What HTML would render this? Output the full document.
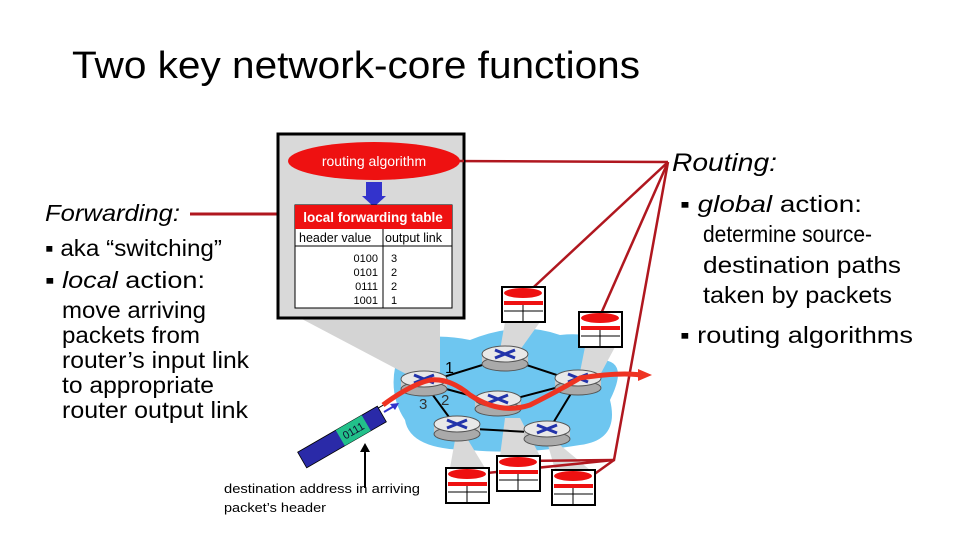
<!DOCTYPE html>
<html><head><meta charset="utf-8"><style>
body{margin:0;background:#fff;}
svg{display:block;font-family:"Liberation Sans",sans-serif;}
</style></head><body>
<svg width="960" height="540" viewBox="0 0 960 540">
<text x="72" y="78" font-size="38" textLength="568" lengthAdjust="spacingAndGlyphs" fill="#000">Two key network-core functions</text>

<!-- Forwarding -->
<text x="45" y="221" font-size="23" font-style="italic" fill="#000" textLength="135" lengthAdjust="spacingAndGlyphs">Forwarding:</text>
<line x1="190" y1="214" x2="295" y2="214" stroke="#b0171f" stroke-width="3"/>
<g font-size="23" fill="#000">
<text x="45" y="256" textLength="177" lengthAdjust="spacingAndGlyphs">▪ aka “switching”</text>
<text x="45" y="288" textLength="160" lengthAdjust="spacingAndGlyphs">▪ <tspan font-style="italic">local</tspan> action:</text>
<text x="62" y="318" textLength="144" lengthAdjust="spacingAndGlyphs">move arriving</text>
<text x="62" y="343" textLength="138" lengthAdjust="spacingAndGlyphs">packets from</text>
<text x="62" y="368" textLength="187" lengthAdjust="spacingAndGlyphs">router’s input link</text>
<text x="62" y="393" textLength="152" lengthAdjust="spacingAndGlyphs">to appropriate</text>
<text x="62" y="418" textLength="186" lengthAdjust="spacingAndGlyphs">router output link</text>
</g>

<!-- Routing -->
<text x="672" y="171" font-size="25" font-style="italic" fill="#000" textLength="105" lengthAdjust="spacingAndGlyphs">Routing:</text>
<g font-size="23" fill="#000">
<text x="680" y="212" textLength="182" lengthAdjust="spacingAndGlyphs">▪ <tspan font-style="italic">global</tspan> action:</text>
<text x="703" y="242" textLength="169" lengthAdjust="spacingAndGlyphs">determine source-</text>
<text x="703" y="273" textLength="198" lengthAdjust="spacingAndGlyphs">destination paths</text>
<text x="703" y="303" textLength="189" lengthAdjust="spacingAndGlyphs">taken by packets</text>
<text x="680" y="343" textLength="233" lengthAdjust="spacingAndGlyphs">▪ routing algorithms</text>
</g>

<!-- blue cloud -->
<path d="M400,350 Q420,330 470,340 Q520,320 560,335 Q610,330 600,360 Q630,360 610,400 Q620,440 580,445 Q520,455 470,450 Q410,450 405,420 Q385,390 400,350 Z" fill="#6ec6f0"/>

<!-- gray callout cones -->
<polygon points="300,318 440,318 440,372 410,376" fill="#d4d4d4"/>
<polygon points="505,322 540,322 520,350 500,350" fill="#d9d9d9"/>
<polygon points="585,347 615,347 600,375 580,372" fill="#d9d9d9"/>
<polygon points="450,468 485,468 468,440 455,440" fill="#d9d9d9"/>
<polygon points="500,456 540,456 520,418 505,418" fill="#d9d9d9"/>
<polygon points="555,470 590,470 560,445 548,445" fill="#d9d9d9"/>

<!-- red routing lines -->
<g stroke="#b0171f" stroke-width="2.5" fill="none">
<polyline points="440,161 668,162"/>
<polyline points="668,162 522,298"/>
<polyline points="668,162 600,316"/>
<polyline points="668,162 614,460 467,475"/>
<polyline points="614,460 520,461"/>
<polyline points="614,460 575,488"/>
</g>

<!-- big box -->
<rect x="278" y="134" width="186" height="184" fill="#d9d9d9" stroke="#000" stroke-width="3"/>
<line x1="455" y1="161" x2="464" y2="161" stroke="#b0171f" stroke-width="2.5"/>
<ellipse cx="374" cy="161" rx="86" ry="19" fill="#ee1111"/>
<text x="374" y="166" font-size="14" fill="#fff" text-anchor="middle">routing algorithm</text>
<rect x="366" y="182" width="16" height="15" fill="#3333cc"/>
<polygon points="362,196 386,196 374,207" fill="#3333cc"/>
<rect x="295" y="205" width="157" height="103" fill="#fff" stroke="#000"/>
<rect x="295" y="205" width="157" height="24" fill="#ee1111"/>
<text x="373" y="222" font-size="13.5" fill="#fff" text-anchor="middle" font-weight="bold">local forwarding table</text>
<line x1="295" y1="246" x2="452" y2="246" stroke="#000"/>
<line x1="383" y1="229" x2="383" y2="308" stroke="#000"/>
<text x="299" y="242" font-size="12.5">header value</text>
<text x="385" y="242" font-size="12.5">output link</text>
<g font-size="11">
<text x="378" y="262" text-anchor="end">0100</text><text x="391" y="262">3</text>
<text x="378" y="276" text-anchor="end">0101</text><text x="391" y="276">2</text>
<text x="378" y="290" text-anchor="end">0111</text><text x="391" y="290">2</text>
<text x="378" y="304" text-anchor="end">1001</text><text x="391" y="304">1</text>
</g>

<!-- links -->
<g stroke="#000" stroke-width="2">
<line x1="424" y1="383" x2="505" y2="358"/>
<line x1="505" y1="358" x2="578" y2="382"/>
<line x1="424" y1="383" x2="498" y2="403"/>
<line x1="498" y1="403" x2="578" y2="382"/>
<line x1="424" y1="383" x2="457" y2="428"/>
<line x1="457" y1="428" x2="547" y2="433"/>
<line x1="547" y1="433" x2="578" y2="382"/>
</g>
<line x1="300" y1="455" x2="405" y2="392" stroke="#000" stroke-width="1"/>

<!-- routers -->
<g>
<g transform="translate(424,383)"><rect x="-23" y="-4" width="46" height="10" fill="#c8c8c8"/><ellipse cx="0" cy="6" rx="23" ry="7" fill="#aaa" stroke="#555"/><ellipse cx="0" cy="-4" rx="23" ry="8" fill="#e8e8e8" stroke="#555"/><path d="M-10,-8 L10,0 M10,-8 L-10,0" stroke="#2233aa" stroke-width="3"/></g>
<g transform="translate(505,358)"><rect x="-23" y="-4" width="46" height="10" fill="#c8c8c8"/><ellipse cx="0" cy="6" rx="23" ry="7" fill="#aaa" stroke="#555"/><ellipse cx="0" cy="-4" rx="23" ry="8" fill="#e8e8e8" stroke="#555"/><path d="M-10,-8 L10,0 M10,-8 L-10,0" stroke="#2233aa" stroke-width="3"/></g>
<g transform="translate(498,403)"><rect x="-23" y="-4" width="46" height="10" fill="#c8c8c8"/><ellipse cx="0" cy="6" rx="23" ry="7" fill="#aaa" stroke="#555"/><ellipse cx="0" cy="-4" rx="23" ry="8" fill="#e8e8e8" stroke="#555"/><path d="M-10,-8 L10,0 M10,-8 L-10,0" stroke="#2233aa" stroke-width="3"/></g>
<g transform="translate(578,382)"><rect x="-23" y="-4" width="46" height="10" fill="#c8c8c8"/><ellipse cx="0" cy="6" rx="23" ry="7" fill="#aaa" stroke="#555"/><ellipse cx="0" cy="-4" rx="23" ry="8" fill="#e8e8e8" stroke="#555"/><path d="M-10,-8 L10,0 M10,-8 L-10,0" stroke="#2233aa" stroke-width="3"/></g>
<g transform="translate(457,428)"><rect x="-23" y="-4" width="46" height="10" fill="#c8c8c8"/><ellipse cx="0" cy="6" rx="23" ry="7" fill="#aaa" stroke="#555"/><ellipse cx="0" cy="-4" rx="23" ry="8" fill="#e8e8e8" stroke="#555"/><path d="M-10,-8 L10,0 M10,-8 L-10,0" stroke="#2233aa" stroke-width="3"/></g>
<g transform="translate(547,433)"><rect x="-23" y="-4" width="46" height="10" fill="#c8c8c8"/><ellipse cx="0" cy="6" rx="23" ry="7" fill="#aaa" stroke="#555"/><ellipse cx="0" cy="-4" rx="23" ry="8" fill="#e8e8e8" stroke="#555"/><path d="M-10,-8 L10,0 M10,-8 L-10,0" stroke="#2233aa" stroke-width="3"/></g>
</g>
<text x="445" y="373" font-size="16">1</text>
<text x="419" y="409" font-size="15" fill="#333">3</text>
<text x="441" y="405" font-size="15" fill="#333">2</text>

<!-- red path -->
<path d="M383,405 Q410,385 430,380 Q450,378 470,395 Q500,415 530,405 Q560,390 580,378 Q620,372 640,375" fill="none" stroke="#ee3322" stroke-width="5"/>
<polygon points="638,369 652,375 638,381" fill="#ee3322"/>

<!-- mini tables -->
<g>
<g transform="translate(502,287)"><rect x="0" y="0" width="43" height="35" fill="#fff" stroke="#000" stroke-width="2"/><ellipse cx="21" cy="6" rx="19" ry="5" fill="#ee1111"/><rect x="2" y="14" width="39" height="4" fill="#ee1111"/><line x1="2" y1="24" x2="41" y2="24" stroke="#000"/><line x1="21" y1="18" x2="21" y2="35" stroke="#000"/></g>
<g transform="translate(579,312)"><rect x="0" y="0" width="43" height="35" fill="#fff" stroke="#000" stroke-width="2"/><ellipse cx="21" cy="6" rx="19" ry="5" fill="#ee1111"/><rect x="2" y="14" width="39" height="4" fill="#ee1111"/><line x1="2" y1="24" x2="41" y2="24" stroke="#000"/><line x1="21" y1="18" x2="21" y2="35" stroke="#000"/></g>
<g transform="translate(446,468)"><rect x="0" y="0" width="43" height="35" fill="#fff" stroke="#000" stroke-width="2"/><ellipse cx="21" cy="6" rx="19" ry="5" fill="#ee1111"/><rect x="2" y="14" width="39" height="4" fill="#ee1111"/><line x1="2" y1="24" x2="41" y2="24" stroke="#000"/><line x1="21" y1="18" x2="21" y2="35" stroke="#000"/></g>
<g transform="translate(497,456)"><rect x="0" y="0" width="43" height="35" fill="#fff" stroke="#000" stroke-width="2"/><ellipse cx="21" cy="6" rx="19" ry="5" fill="#ee1111"/><rect x="2" y="14" width="39" height="4" fill="#ee1111"/><line x1="2" y1="24" x2="41" y2="24" stroke="#000"/><line x1="21" y1="18" x2="21" y2="35" stroke="#000"/></g>
<g transform="translate(552,470)"><rect x="0" y="0" width="43" height="35" fill="#fff" stroke="#000" stroke-width="2"/><ellipse cx="21" cy="6" rx="19" ry="5" fill="#ee1111"/><rect x="2" y="14" width="39" height="4" fill="#ee1111"/><line x1="2" y1="24" x2="41" y2="24" stroke="#000"/><line x1="21" y1="18" x2="21" y2="35" stroke="#000"/></g>
</g>

<!-- packet -->
<g transform="translate(342,437) rotate(-30)">
<rect x="-46" y="-9" width="92" height="18" fill="#2a2aa8" stroke="#000" stroke-width="0.8"/>
<rect x="-2" y="-9" width="30" height="18" fill="#22c08a"/>
<text x="13" y="4" font-size="11" text-anchor="middle" fill="#113">0111</text>
</g>
<line x1="384" y1="412" x2="396" y2="405" stroke="#3333cc" stroke-width="2"/>
<polygon points="399,403 390,404 395,410" fill="#3333cc"/>
<line x1="365" y1="488" x2="365" y2="450" stroke="#000" stroke-width="2"/>
<polygon points="360,452 370,452 365,443" fill="#000"/>
<text x="224" y="493" font-size="12.5" textLength="196" lengthAdjust="spacingAndGlyphs">destination address in arriving</text>
<text x="224" y="512" font-size="12.5" textLength="102" lengthAdjust="spacingAndGlyphs">packet’s header</text>
</svg>
</body></html>
